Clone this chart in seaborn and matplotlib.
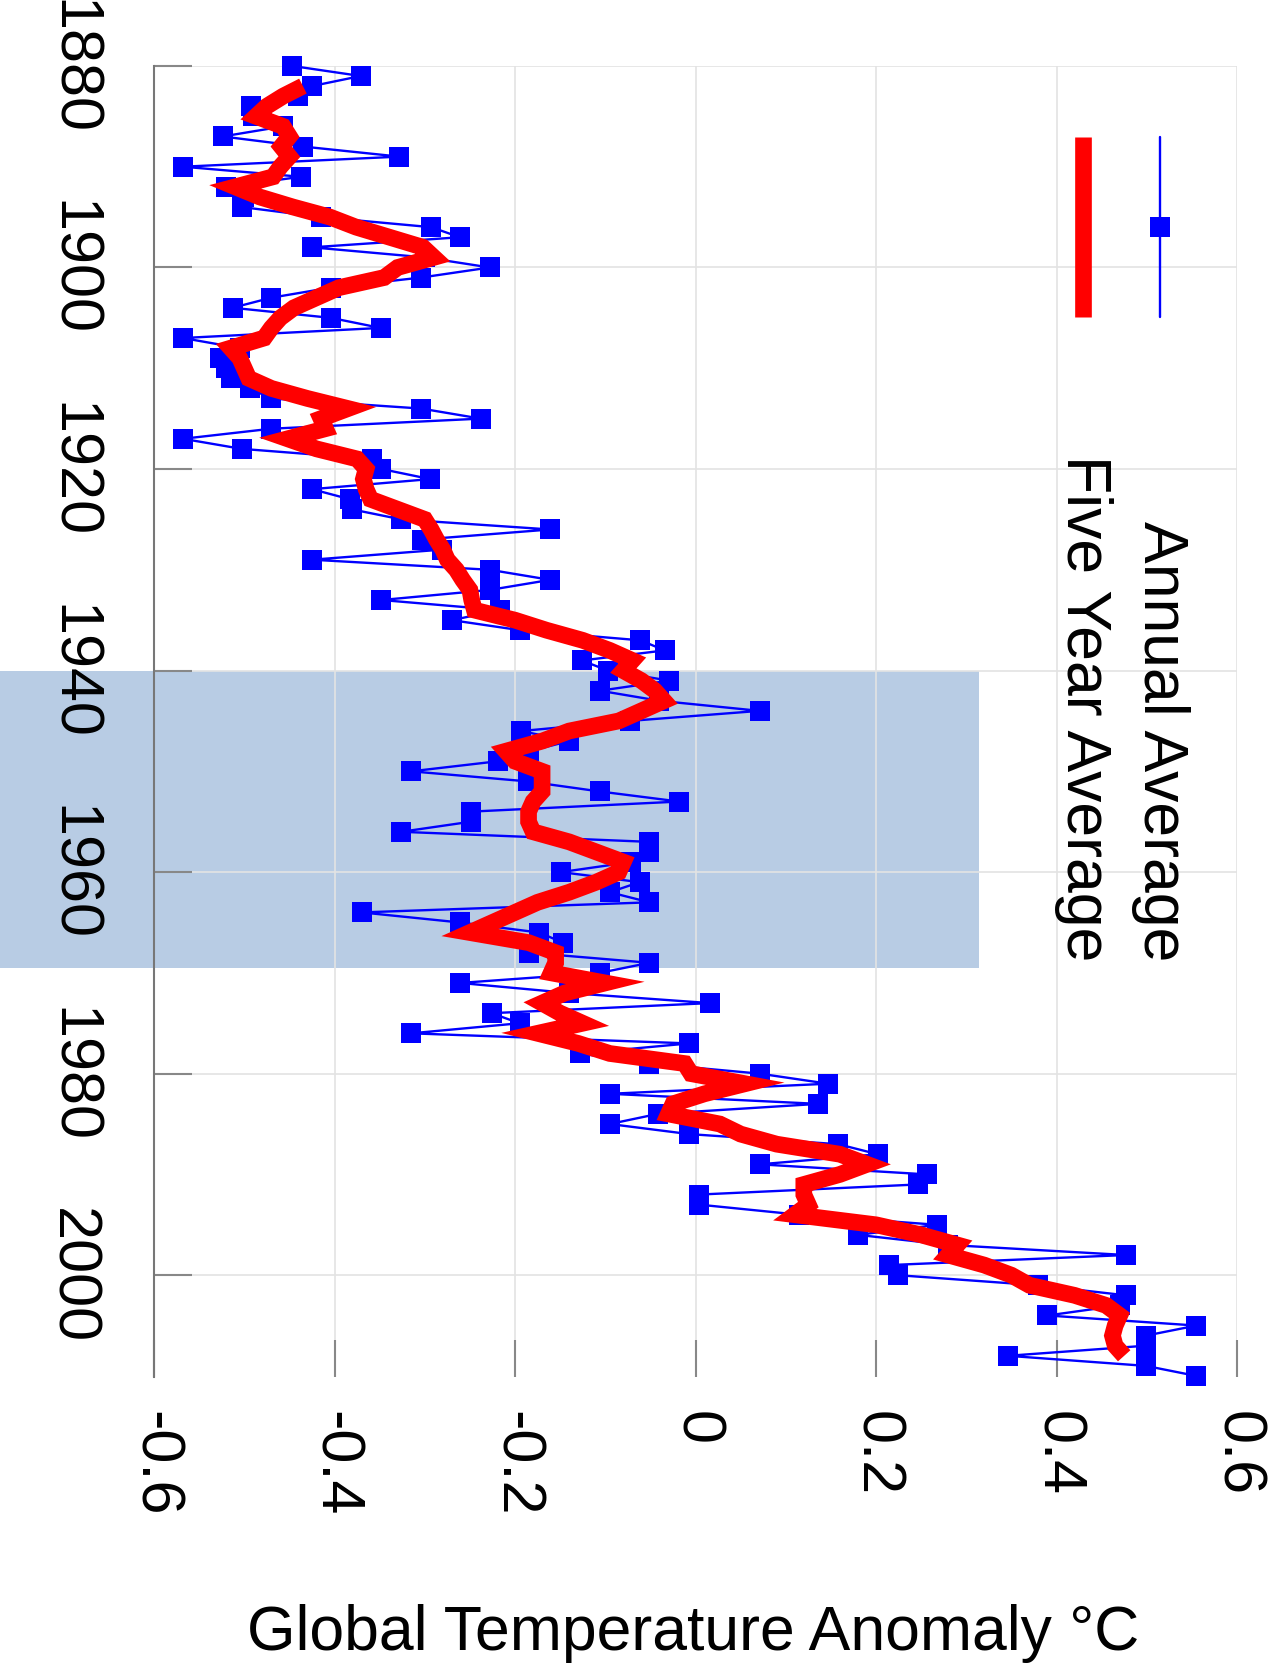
"""
Global temperature anomaly record, drawn rotated (year runs down the page).
"""

import matplotlib

matplotlib.use("Agg")
import matplotlib.pyplot as plt  # noqa: E402
import pandas as pd  # noqa: E402
import seaborn as sns  # noqa: E402

# annual averages, 1880-2010
years = list(range(1880, 2011))
annual = [
    -0.447, -0.371, -0.425, -0.440, -0.492, -0.490, -0.457, -0.524, -0.435, -0.328,
    -0.568, -0.437, -0.520, -0.500, -0.503, -0.415, -0.293, -0.261, -0.425, -0.300,
    -0.228, -0.304, -0.404, -0.470, -0.513, -0.404, -0.349, -0.568, -0.505, -0.527,
    -0.520, -0.515, -0.494, -0.470, -0.304, -0.238, -0.470, -0.568, -0.503, -0.359,
    -0.348, -0.294, -0.425, -0.383, -0.381, -0.326, -0.161, -0.303, -0.281, -0.425,
    -0.228, -0.161, -0.228, -0.348, -0.217, -0.270, -0.194, -0.061, -0.034, -0.126,
    -0.097, -0.029, -0.106, -0.040, 0.071, -0.073, -0.193, -0.140, -0.184, -0.219,
    -0.315, -0.186, -0.106, -0.018, -0.249, -0.249, -0.326, -0.051, -0.051, -0.071,
    -0.149, -0.062, -0.095, -0.051, -0.370, -0.261, -0.173, -0.147, -0.184, -0.051,
    -0.106, -0.261, -0.140, 0.016, -0.226, -0.195, -0.315, -0.007, -0.128, -0.051,
    0.071, 0.147, -0.095, 0.136, -0.042, -0.095, -0.007, 0.158, 0.202, 0.071,
    0.257, 0.246, 0.004, 0.004, 0.115, 0.268, 0.180, 0.280, 0.477, 0.214,
    0.224, 0.379, 0.477, 0.470, 0.390, 0.555, 0.499, 0.499, 0.346, 0.499,
    0.555,
]

# five year averages, 1882-2008
five_years = list(range(1882, 2009))
five_year = [
    -0.435, -0.457, -0.475, -0.487, -0.457, -0.450, -0.459, -0.450,
    -0.460, -0.468, -0.510, -0.483, -0.446, -0.405, -0.376, -0.339, -0.302, -0.290,
    -0.330, -0.345, -0.395, -0.420, -0.445, -0.460, -0.470, -0.478, -0.515, -0.505,
    -0.500, -0.495, -0.470, -0.430, -0.385, -0.415, -0.410, -0.452, -0.420, -0.375,
    -0.365, -0.368, -0.365, -0.360, -0.330, -0.300, -0.293, -0.287, -0.280, -0.275,
    -0.265, -0.258, -0.250, -0.248, -0.245, -0.200, -0.165, -0.125, -0.095, -0.070,
    -0.080, -0.060, -0.045, -0.035, -0.060, -0.085, -0.140, -0.170, -0.210, -0.200,
    -0.170, -0.170, -0.170, -0.180, -0.185, -0.185, -0.180, -0.140, -0.110, -0.080,
    -0.085, -0.110, -0.140, -0.175, -0.200, -0.225, -0.250, -0.185, -0.155, -0.155,
    -0.160, -0.100, -0.145, -0.170, -0.150, -0.125, -0.175, -0.130, -0.095, -0.012,
    -0.005, 0.055, 0.010, -0.025, -0.030, 0.027, 0.050, 0.090, 0.160, 0.190,
    0.160, 0.120, 0.120, 0.125, 0.110, 0.200, 0.250, 0.290, 0.280, 0.320,
    0.350, 0.370, 0.420, 0.455, 0.470, 0.465, 0.462, 0.465, 0.475,
]

temp_ticks = [-0.6, -0.4, -0.2, 0, 0.2, 0.4, 0.6]
temp_labels = ["-0.6", "-0.4", "-0.2", "0", "0.2", "0.4", "0.6"]
year_ticks = [1880, 1900, 1920, 1940, 1960, 1980, 2000]
shade_years = (1940, 1969.5)

sns.set_style("white")
plt.rcParams["font.family"] = ["Liberation Sans", "DejaVu Sans"]
plt.rcParams["text.color"] = "black"
plt.rcParams["xtick.labelcolor"] = "black"
plt.rcParams["ytick.labelcolor"] = "black"

df_annual = pd.DataFrame({"year": years, "anomaly": annual})
df_five = pd.DataFrame({"year": five_years, "anomaly": five_year})

fig = plt.figure(figsize=(12.75, 16.65), dpi=100)
ax = fig.add_axes([0.1208, 0.1724, 0.8494, 0.7874])

# shaded band runs out past the axes to the left page edge
ax.axhspan(*shade_years, xmin=-0.143, xmax=0.762, color="#b8cce4",
           zorder=0, clip_on=False, lw=0)

sns.lineplot(data=df_annual, x="anomaly", y="year", orient="y", sort=False,
             estimator=None, color="blue", lw=1.7, marker="s", markersize=14,
             markeredgewidth=0, markeredgecolor="blue", clip_on=False, ax=ax)
sns.lineplot(data=df_five, x="anomaly", y="year", orient="y", sort=False,
             estimator=None, color="red", lw=12, solid_joinstyle="miter",
             solid_capstyle="butt", clip_on=False, ax=ax)

ax.set_xlim(-0.6, 0.6)
ax.set_ylim(2010.1, 1880)
ax.set_xlabel("")
ax.set_ylabel("")

ax.set_xticks(temp_ticks)
ax.set_xticklabels(temp_labels, rotation=-90, va="top")
ax.set_yticks(year_ticks)
ax.set_yticklabels([str(y) for y in year_ticks], rotation=-90, va="center")
ax.tick_params(axis="x", direction="in", length=27, width=1.5, color="#888888",
               labelsize=44, pad=24, bottom=True, labelcolor="black")
ax.tick_params(axis="y", direction="in", length=27, width=1.5, color="#888888",
               labelsize=44, pad=39, left=True, labelcolor="black")

ax.grid(True, color="#e3e3e3", lw=1.2)
ax.set_axisbelow(True)
for side in ["top", "right", "bottom"]:
    ax.spines[side].set_visible(False)
ax.spines["left"].set_color("#777777")
ax.spines["left"].set_linewidth(1.5)

# hand-made legend, rotated like the rest of the chart
ax.plot([0.858, 0.858], [0.946, 0.8085], transform=ax.transAxes, color="red",
        lw=12, solid_capstyle="butt")
ax.plot([0.929, 0.929], [0.946, 0.8085], transform=ax.transAxes, color="blue",
        lw=1.7)
ax.plot([0.929], [0.877], transform=ax.transAxes, color="blue", marker="s",
        markersize=14, markeredgewidth=0)
ax.text(0.929, 0.318, "Annual Average", rotation=-90, ha="center", va="bottom",
        fontsize=45, color="black", transform=ax.transAxes)
ax.text(0.858, 0.318, "Five Year Average", rotation=-90, ha="center",
        va="bottom", fontsize=45, color="black", transform=ax.transAxes)

fig.text(0.544, 0.009, "Global Temperature Anomaly °C", ha="center",
         va="baseline", fontsize=45, color="black")

fig.savefig("out.png", dpi=100)
plt.close(fig)
